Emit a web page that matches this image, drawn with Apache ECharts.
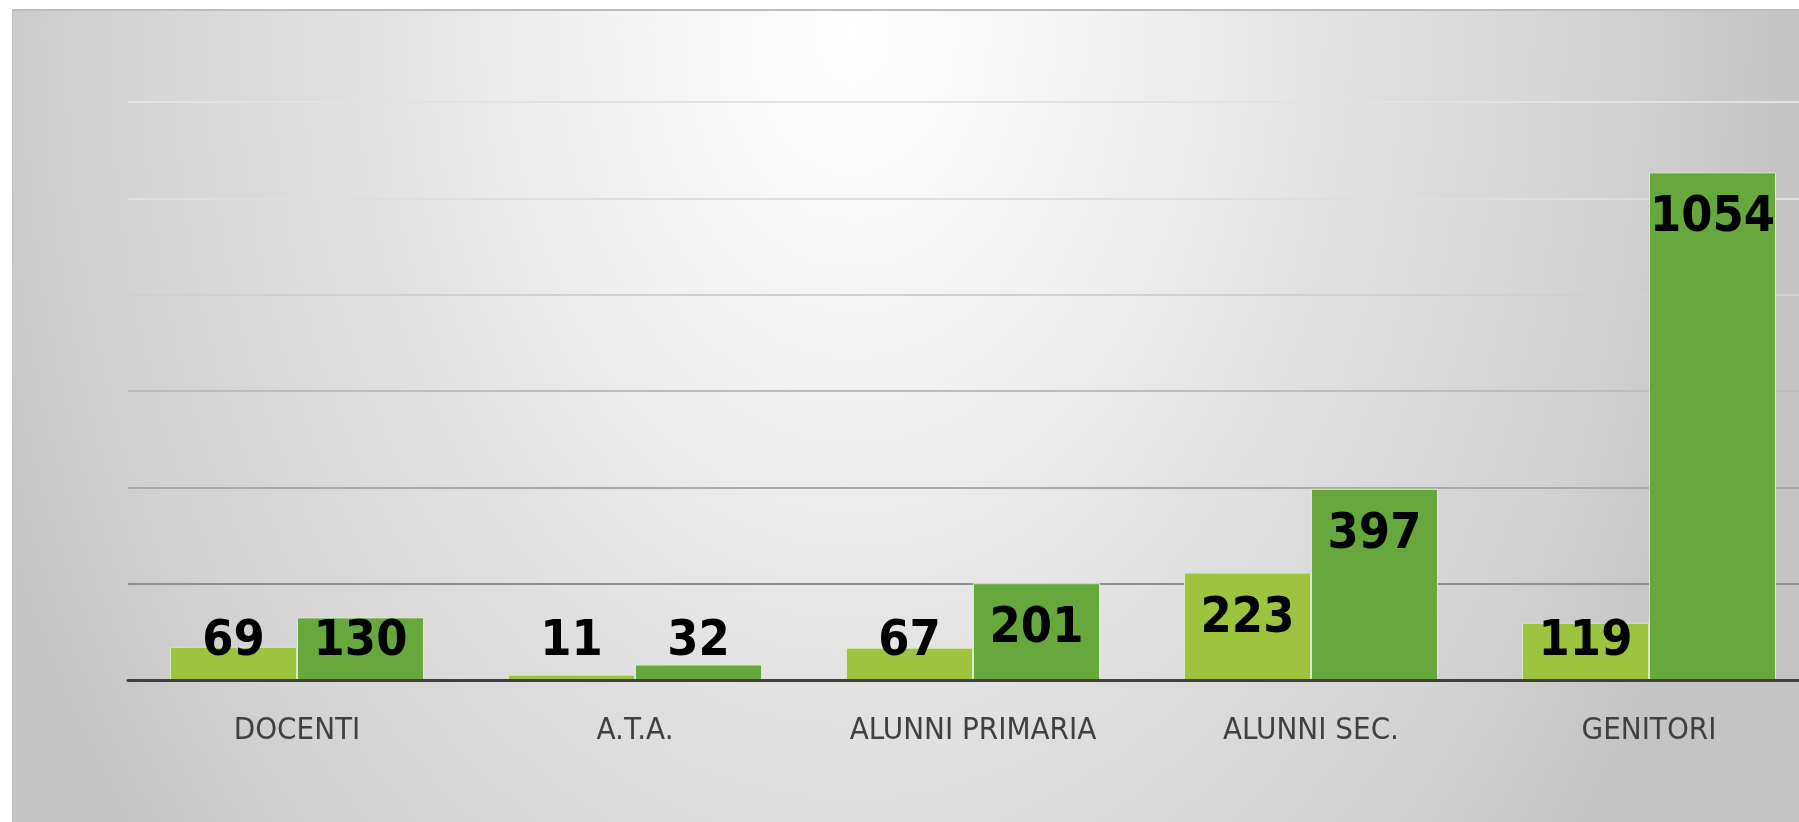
<!DOCTYPE html>
<html>
<head>
<meta charset="utf-8">
<script src="https://cdn.jsdelivr.net/npm/echarts@6/dist/echarts.min.js"></script>
<style>
html,body{margin:0;padding:0;background:#ffffff;overflow:hidden;width:1799px;height:822px;position:relative;}
#bg{position:absolute;left:12px;top:9px;width:1787px;height:813px;box-sizing:border-box;border-top:2px solid #bdbdbd;border-left:1px solid #c0c0c0;
background:radial-gradient(ellipse 930px 1300px at 840px 20px,#ffffff 0%,#f0f0f0 30%,#dedede 58%,#d3d3d3 80%,#c4c4c4 100%);background-color:#c4c4c4;}
#main{position:absolute;left:0;top:0;width:1840px;height:822px;}
</style>
</head>
<body>
<div id="bg"></div>
<div id="main"></div>
<script>
const categories = ['DOCENTI', 'A.T.A.', 'ALUNNI PRIMARIA', 'ALUNNI SEC.', 'GENITORI'];
const seriesA = [69, 11, 67, 223, 119];
const seriesB = [130, 32, 201, 397, 1054];
const yMin = 0, yMax = 1200, yInterval = 200;

const chart = echarts.init(document.getElementById('main'), null, {renderer: 'canvas'});

const labelFont = {
  color: '#000000',
  fontFamily: 'DejaVu Sans Condensed',
  fontWeight: 'bold',
  fontSize: 50
};
const pxPerUnit = 578 / (yMax - yMin);
function buildData(values) {
  return values.map(v => {
    const tall = v * pxPerUnit > 83;
    return {
      value: v,
      label: tall ? {position: 'insideTop', distance: 21} : {position: 'insideBottom', distance: 13}
    };
  });
}

chart.setOption({
  animation: false,
  grid: {left: 128, top: 102, width: 1690, height: 578, containLabel: false},
  xAxis: {
    type: 'category',
    data: categories,
    axisTick: {show: false},
    axisLine: {show: true, lineStyle: {color: '#404040', width: 3}},
    axisLabel: {color: '#404040', fontFamily: 'DejaVu Sans Condensed', fontSize: 31, margin: 35},
    z: 5
  },
  yAxis: {
    type: 'value',
    min: yMin, max: yMax, interval: yInterval,
    axisLabel: {show: false},
    axisLine: {show: false},
    axisTick: {show: false},
    splitLine: {show: true, lineStyle: {width: 2, color: ['#8e8e8e', '#8e8e8e', '#a8a8a8', '#bcbcbc', '#d0d0d0', '#dedede', '#e2e2e2']}}
  },
  series: [
    {
      type: 'bar',
      data: buildData(seriesA),
      barWidth: 127,
      barGap: '0%',
      itemStyle: {color: '#9cc43f', borderColor: '#dbe9c6', borderWidth: 1},
      label: Object.assign({show: true}, labelFont)
    },
    {
      type: 'bar',
      data: buildData(seriesB),
      barWidth: 127,
      barGap: '0%',
      itemStyle: {color: '#66a83c', borderColor: '#dbe9c6', borderWidth: 1},
      label: Object.assign({show: true}, labelFont)
    }
  ]
});
</script>
</body>
</html>
